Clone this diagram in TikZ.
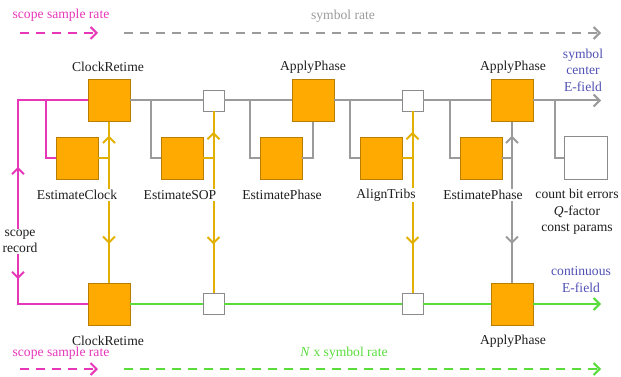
\documentclass[tikz,border=0pt]{standalone}
\usepackage{fontspec}
\setmainfont{Liberation Serif}
\usetikzlibrary{arrows.meta,decorations.markings}
\definecolor{ofill}{RGB}{255,170,0}
\definecolor{obord}{RGB}{185,125,0}
\definecolor{ylw}{RGB}{226,176,0}
\definecolor{mgt}{RGB}{230,55,185}
\definecolor{grn}{RGB}{90,220,60}
\definecolor{blu}{RGB}{80,80,180}
\definecolor{gry}{RGB}{155,155,155}
\definecolor{txt}{RGB}{30,30,30}
\newcommand{\fs}{\fontsize{13.6}{16.5}\selectfont}
\tikzset{
  bigbox/.style={draw=obord, fill=ofill, minimum size=42pt, inner sep=0pt, line width=0.8pt},
  smallbox/.style={draw=gry!90!black, fill=white, minimum size=21pt, inner sep=0pt, line width=0.8pt},
  endbox/.style={draw=gry!90!black, fill=white, minimum size=43pt, inner sep=0pt, line width=0.8pt},
  lbl/.style={font=\fs, text=txt, inner sep=1pt, align=center},
  cover/.style={fill=white},
  conn/.style={line width=2pt},
  gl/.style={conn, draw=gry},
  yl/.style={conn, draw=ylw},
  ml/.style={conn, draw=mgt},
  gnl/.style={conn, draw=grn},
  tipend/.style={-{Straight Barb[length=6pt,width=12pt]}},
  dashline/.style={dash pattern=on 9pt off 7pt},
  midarrow/.style={postaction=decorate, decoration={markings, mark=at position #1 with {\arrow{Straight Barb[length=6pt,width=12pt]}}}},
}
\begin{document}
\begin{tikzpicture}[x=1pt,y=-1pt]
\useasboundingbox (0,0) rectangle (621,377);
% nodes top
\node[bigbox] (cr1) at (109,100.5) {};
\node[bigbox] (ce) at (77,158) {};
\node[smallbox] (w1) at (213.5,100.5) {};
\node[bigbox] (es) at (182,158) {};
\node[bigbox] (ap1) at (313,100.5) {};
\node[bigbox] (ep1) at (281,158) {};
\node[smallbox] (w2) at (412.5,100.5) {};
\node[bigbox] (at) at (381,158) {};
\node[bigbox] (ap2) at (512,100.5) {};
\node[bigbox] (ep2) at (481,158) {};
\node[endbox] (wb) at (585.5,158) {};
% nodes bottom
\node[bigbox] (cr2) at (109,304) {};
\node[smallbox] (w3) at (213.5,304) {};
\node[smallbox] (w4) at (412.5,304) {};
\node[bigbox] (ap3) at (512,304) {};
\coordinate (topend) at (601,100.5);
\coordinate (botend) at (601,304);
% top gray line
\draw[gl] (cr1) -- (w1);
\draw[gl] (w1) -- (ap1);
\draw[gl] (ap1) -- (w2);
\draw[gl] (w2) -- (ap2);
\draw[gl, tipend] (ap2) -- (topend);
% gray branches
\coordinate (g1) at (151,100.5);
\coordinate (g2) at (250,100.5);
\coordinate (g3) at (350,100.5);
\coordinate (g4) at (450,100.5);
\coordinate (g5) at (555,100.5);
\draw[gl] (g1) |- (es.west);
\draw[gl] (g2) |- (ep1.west);
\draw[gl] (g3) |- (at.west);
\draw[gl] (g4) |- (ep2.west);
\draw[gl] (g5) |- (wb.west);
\draw[gl] (ep1.east) -| (ap1.south);
% bottom green line
\draw[gnl] (cr2) -- (w3);
\draw[gnl] (w3) -- (w4);
\draw[gnl] (w4) -- (ap3);
\draw[gnl, tipend] (ap3) -- (botend);
% yellow / gray verticals
\coordinate (y1) at (cr1.south |- ce.east);
\coordinate (y2) at (w1.south |- es.east);
\coordinate (y3) at (w2.south |- at.east);
\coordinate (y4) at (ap2.south |- ep2.east);
\draw[yl] (ce.east) -- (y1);
\draw[yl, midarrow=0.62] (y1) -- (cr1.south);
\draw[yl, midarrow=0.69] (y1) -- (cr2.north);
\draw[yl] (es.east) -- (y2);
\draw[yl, midarrow=0.56] (y2) -- (w1.south);
\draw[yl, midarrow=0.64] (y2) -- (w3.north);
\draw[yl] (at.east) -- (y3);
\draw[yl, midarrow=0.56] (y3) -- (w2.south);
\draw[yl, midarrow=0.64] (y3) -- (w4.north);
\draw[gl] (ep2.east) -- (y4);
\draw[gl, midarrow=0.62] (y4) -- (ap2.south);
\draw[gl, midarrow=0.69] (y4) -- (ap3.north);
% magenta
\node[lbl] (sr) at (20,241.5) {scope\\record};
\coordinate (m1) at (18,100.5);
\coordinate (m2) at (18,304);
\coordinate (mj) at (46,100.5);
\draw[ml, midarrow=62pt] (sr.north -| m1) -- (m1) -- (cr1.west);
\draw[ml] (mj) |- (ce.west);
\draw[ml, midarrow=25pt] (sr.south -| m1) -- (m2) -- (cr2.west);
% labels
\node[lbl] (l1) at (108,67) {ClockRetime};
\node[lbl] (l2) at (313,67) {ApplyPhase};
\node[lbl] (l3) at (513,67) {ApplyPhase};
\node[lbl, text=blu] (l4) at (583,70) {symbol\\center\\E-field};
\node[lbl, cover] (l5) at (77,195) {EstimateClock};
\node[lbl, cover] (l6) at (180,195) {EstimateSOP};
\node[lbl, cover] (l7) at (282,195) {EstimatePhase};
\node[lbl, cover] (l8) at (386,195) {AlignTribs};
\node[lbl, cover] (l9) at (483,195) {EstimatePhase};
\node[lbl] (l10) at (577,212) {count bit errors\\\textit{Q}-factor\\const params};
\node[lbl, text=blu] (l11) at (581,279.5) {continuous\\E-field};
\node[lbl] (l12) at (108,341) {ClockRetime};
\node[lbl] (l13) at (513,341) {ApplyPhase};
% rate legends
\node[lbl, text=mgt] (r1) at (61,15) {scope sample rate};
\node[lbl, text=gry] (r2) at (343,16) {symbol rate};
\node[lbl, text=mgt] (r3) at (61,353.5) {scope sample rate};
\node[lbl, text=grn] (r4) at (344,353.5) {\textit{N} x symbol rate};
\coordinate (d1) at (20,33);
\coordinate (d2) at (98,33);
\coordinate (d3) at (124,33);
\coordinate (d4) at (601,33);
\coordinate (d5) at (20,369);
\coordinate (d6) at (98,369);
\coordinate (d7) at (124,369);
\coordinate (d8) at (601,369);
\draw[ml, dashline, tipend] (d1) -- (d2);
\draw[gl, dashline, tipend] (d3) -- (d4);
\draw[ml, dashline, tipend] (d5) -- (d6);
\draw[gnl, dashline, tipend] (d7) -- (d8);
\end{tikzpicture}
\end{document}
